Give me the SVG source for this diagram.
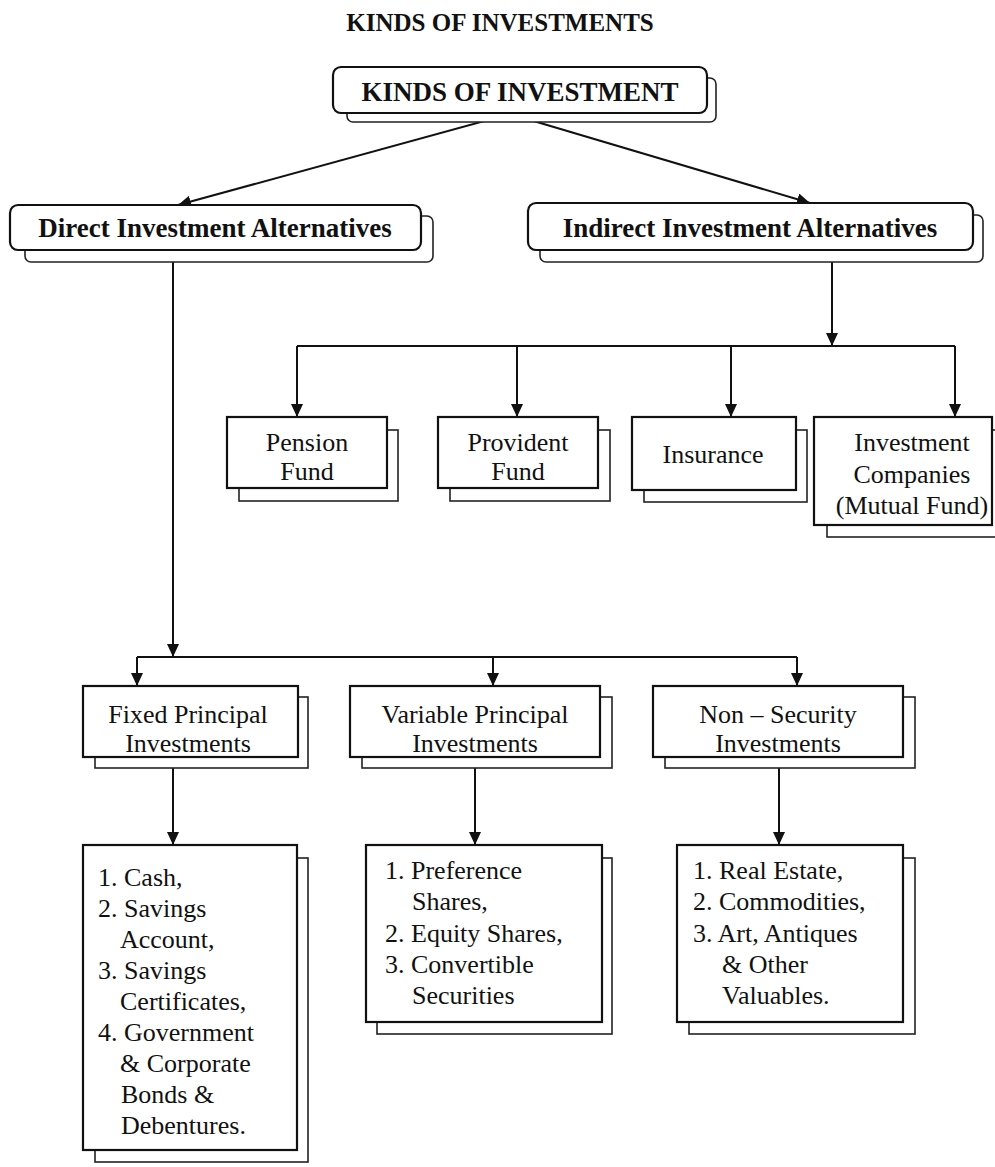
<svg xmlns="http://www.w3.org/2000/svg" width="995" height="1167" viewBox="0 0 995 1167">
<defs>
<marker id="arr" markerUnits="userSpaceOnUse" markerWidth="14" markerHeight="12" refX="13" refY="6" orient="auto">
<path d="M0,0 L13,6 L0,12 z" fill="#111"/>
</marker>
</defs>
<style>
.main{fill:#fff;stroke:#111;stroke-width:2.2}
.shd{fill:#fff;stroke:#222;stroke-width:1.6}
.b{font-family:"Liberation Serif","Times New Roman",serif;font-weight:bold;fill:#111;text-anchor:middle}
.t{font-family:"Liberation Serif","Times New Roman",serif;font-weight:normal;font-style:normal;font-size:26px;fill:#111}
.c{text-anchor:middle}
.ln{stroke:#111;stroke-width:2;fill:none}
.ar{stroke:#111;stroke-width:2;fill:none;marker-end:url(#arr)}
</style>
<rect width="995" height="1167" fill="#fff"/>
<text class="b" x="500" y="31" font-size="25">KINDS OF INVESTMENTS</text>

<g id="connectors">
<line class="ar" x1="510" y1="114" x2="178" y2="205"/>
<line class="ar" x1="510" y1="114" x2="810" y2="203"/>
<line class="ar" x1="832" y1="262" x2="832" y2="346"/>
<line class="ln" x1="297" y1="346" x2="955" y2="346"/>
<line class="ar" x1="297" y1="346" x2="297" y2="417"/>
<line class="ar" x1="517" y1="346" x2="517" y2="417"/>
<line class="ar" x1="731" y1="346" x2="731" y2="417"/>
<line class="ar" x1="955" y1="346" x2="955" y2="417"/>
<line class="ar" x1="173" y1="262" x2="173" y2="657"/>
<line class="ln" x1="137" y1="657" x2="797" y2="657"/>
<line class="ar" x1="137" y1="657" x2="137" y2="686"/>
<line class="ar" x1="493" y1="657" x2="493" y2="686"/>
<line class="ar" x1="797" y1="657" x2="797" y2="686"/>
<line class="ar" x1="173" y1="768" x2="173" y2="845"/>
<line class="ar" x1="475" y1="768" x2="475" y2="845"/>
<line class="ar" x1="779" y1="768" x2="779" y2="845"/>
</g>

<g id="kinds">
<rect class="shd" x="347" y="78" width="369" height="44" rx="6"/>
<rect class="main" x="333" y="67" width="374" height="46" rx="8"/>
<text class="b" x="520" y="101" font-size="27">KINDS OF INVESTMENT</text>
</g>

<g id="direct">
<rect class="shd" x="25" y="216" width="408" height="46" rx="6"/>
<rect class="main" x="10" y="205" width="411" height="45" rx="8"/>
<text class="b" x="215" y="237" font-size="27">Direct Investment Alternatives</text>
</g>

<g id="indirect">
<rect class="shd" x="540" y="215" width="443" height="47" rx="6"/>
<rect class="main" x="528" y="203" width="445" height="47" rx="8"/>
<text class="b" x="750" y="237" font-size="27">Indirect Investment Alternatives</text>
</g>

<g id="pension" font-family="Liberation Serif, serif">
<rect class="shd" x="239" y="430" width="159" height="71"/>
<rect class="main" x="227" y="417" width="160" height="71"/>
<text class="t c" x="307" y="451">Pension</text>
<text class="t c" x="307" y="480">Fund</text>
</g>

<g id="provident">
<rect class="shd" x="450" y="430" width="160" height="71"/>
<rect class="main" x="438" y="417" width="160" height="71"/>
<text class="t c" x="518" y="451">Provident</text>
<text class="t c" x="518" y="480">Fund</text>
</g>

<g id="insurance">
<rect class="shd" x="644" y="430" width="163" height="72"/>
<rect class="main" x="632" y="417" width="164" height="73"/>
<text class="t c" x="713" y="463">Insurance</text>
</g>

<g id="investment-companies">
<rect class="shd" x="827" y="430" width="170" height="107"/>
<rect class="main" x="814" y="417" width="178" height="108"/>
<text class="t c" x="912" y="451">Investment</text>
<text class="t c" x="912" y="483">Companies</text>
<text class="t c" x="912" y="514">(Mutual Fund)</text>
</g>

<g id="fixed">
<rect class="shd" x="95" y="697" width="213" height="71"/>
<rect class="main" x="83" y="686" width="215" height="71"/>
<text class="t c" x="188" y="723">Fixed Principal</text>
<text class="t c" x="188" y="752">Investments</text>
</g>

<g id="variable">
<rect class="shd" x="362" y="697" width="250" height="71"/>
<rect class="main" x="350" y="686" width="250" height="71"/>
<text class="t c" x="475" y="723">Variable Principal</text>
<text class="t c" x="475" y="752">Investments</text>
</g>

<g id="nonsecurity">
<rect class="shd" x="665" y="697" width="250" height="71"/>
<rect class="main" x="653" y="686" width="250" height="71"/>
<text class="t c" x="778" y="723">Non – Security</text>
<text class="t c" x="778" y="752">Investments</text>
</g>

<g id="fixed-list">
<rect class="shd" x="95" y="858" width="213" height="304"/>
<rect class="main" x="83" y="845" width="214" height="305"/>
<text class="t" x="98" y="886">1. Cash,</text>
<text class="t" x="98" y="917">2. Savings</text>
<text class="t" x="120" y="948">Account,</text>
<text class="t" x="98" y="979">3. Savings</text>
<text class="t" x="120" y="1010">Certificates,</text>
<text class="t" x="98" y="1041">4. Government</text>
<text class="t" x="120" y="1072">&amp; Corporate</text>
<text class="t" x="121" y="1103">Bonds &amp;</text>
<text class="t" x="121" y="1134">Debentures.</text>
</g>

<g id="variable-list">
<rect class="shd" x="377" y="858" width="235" height="176"/>
<rect class="main" x="366" y="845" width="236" height="177"/>
<text class="t" x="385" y="879">1. Preference</text>
<text class="t" x="412" y="910">Shares,</text>
<text class="t" x="385" y="942">2. Equity Shares,</text>
<text class="t" x="385" y="973">3. Convertible</text>
<text class="t" x="412" y="1004">Securities</text>
</g>

<g id="nonsecurity-list">
<rect class="shd" x="689" y="858" width="226" height="176"/>
<rect class="main" x="677" y="845" width="226" height="177"/>
<text class="t" x="693" y="879">1. Real Estate,</text>
<text class="t" x="693" y="910">2. Commodities,</text>
<text class="t" x="693" y="942">3. Art, Antiques</text>
<text class="t" x="722" y="973">&amp; Other</text>
<text class="t" x="722" y="1004">Valuables.</text>
</g>
</svg>
